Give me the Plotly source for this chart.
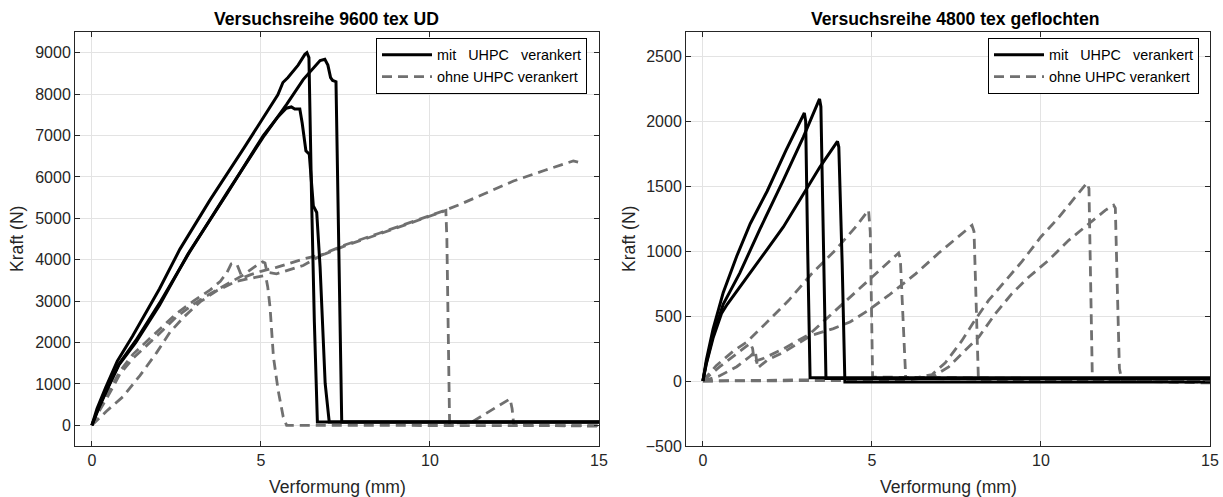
import plotly.graph_objects as go

# ---------------- Versuchsreihe 9600 tex UD ----------------
# mit UHPC verankert
ud_mit_a_x = [0, 0.15, 0.4, 0.75, 1.2, 2.0, 2.6, 3.5, 4.5, 5.5, 5.65, 5.8, 6.1, 6.3, 6.36, 6.42, 6.5, 6.58, 6.67, 15]
ud_mit_a_y = [0, 400, 900, 1550, 2150, 3300, 4250, 5450, 6700, 7980, 8280, 8400, 8700, 8960, 9000, 8880, 5400, 2500, 80, 80]
ud_mit_b_x = [0, 0.2, 0.45, 0.8, 1.3, 2.0, 2.9, 4.0, 5.1, 5.76, 6.25, 6.75, 6.89, 6.98, 7.06, 7.12, 7.22, 7.3, 7.39, 15]
ud_mit_b_y = [0, 430, 880, 1480, 2050, 2950, 4200, 5620, 7000, 7750, 8350, 8810, 8840, 8700, 8400, 8330, 8300, 4300, 80, 80]
ud_mit_c_x = [0, 0.2, 0.45, 0.8, 1.3, 2.0, 2.85, 4.0, 5.07, 5.5, 5.75, 5.9, 6.0, 6.15, 6.22, 6.33, 6.43, 6.55, 6.65, 6.75, 6.9, 7.02, 15]
ud_mit_c_y = [0, 410, 860, 1460, 2000, 2900, 4150, 5600, 7000, 7450, 7660, 7690, 7640, 7640, 7300, 6630, 6550, 5300, 5140, 3815, 1010, 80, 80]

# ohne UHPC verankert
ud_ohne_a_x = [0, 0.43, 0.93, 1.42, 1.91, 2.31, 2.7, 3.2, 3.69, 4.28, 4.87, 5.07, 5.15, 5.2, 5.27, 5.37, 5.51, 5.66, 5.76, 15]
ud_ohne_a_y = [0, 340, 700, 1200, 1750, 2250, 2600, 2980, 3250, 3480, 3580, 3610, 3560, 3350, 2850, 1650, 840, 200, 0, -10]
ud_ohne_b_x = [0, 0.2, 0.5, 0.83, 1.22, 1.67, 2.0, 2.5, 3.0, 3.5, 3.8, 4.0, 4.12, 4.2, 4.3, 4.45, 4.7, 5.0, 5.46, 6.25, 6.9,
               7.5, 8.5, 9.5, 10.4, 10.47, 10.5, 10.58, 11.2, 11.8, 12.37, 12.43, 12.48, 15]
ud_ohne_b_y = [0, 380, 820, 1310, 1720, 2060, 2320, 2700, 3000, 3270, 3480, 3700, 3900, 3920, 3870, 3560, 3640, 3720, 3815, 4016, 4140,
               4340, 4620, 4900, 5170, 5190, 4500, 60, 60, 350, 640, 400, 0, -20]
ud_ohne_c_x = [0, 0.2, 0.5, 0.83, 1.22, 1.67, 2.0, 2.5, 3.0, 3.5, 4.0, 4.5, 4.9, 5.05, 5.12, 5.18, 5.46, 6.25, 6.9,
               7.5, 8.5, 9.5, 10.4, 10.9, 11.7, 12.47, 13.4, 14.24, 14.5]
ud_ohne_c_y = [0, 320, 740, 1240, 1620, 1960, 2220, 2620, 2920, 3180, 3420, 3640, 3880, 3950, 3920, 3700, 3660, 3860, 4160,
               4360, 4640, 4920, 5180, 5340, 5620, 5900, 6160, 6386, 6330]

# ---------------- Versuchsreihe 4800 tex geflochten ----------------
# mit UHPC verankert
gf_mit_a_x = [0, 0.1, 0.3, 0.6, 1.0, 1.4, 1.9, 2.45, 3.0, 3.04, 3.1, 3.17, 15]
gf_mit_a_y = [0, 160, 400, 680, 960, 1210, 1460, 1770, 2062, 2000, 1000, 25, 25]
gf_mit_b_x = [0, 0.1, 0.3, 0.6, 1.09, 1.69, 2.38, 2.97, 3.45, 3.49, 3.57, 3.64, 15]
gf_mit_b_y = [0, 140, 350, 590, 830, 1170, 1545, 1877, 2170, 2110, 1000, 20, 20]
gf_mit_c_x = [0, 0.1, 0.3, 0.55, 0.72, 1.39, 1.88, 2.38, 2.87, 3.46, 3.98, 4.02, 4.12, 4.2, 15]
gf_mit_c_y = [0, 130, 330, 520, 590, 826, 1005, 1185, 1390, 1646, 1844, 1800, 900, -8, -8]

# ohne UHPC verankert
gf_ohne_a_x = [0, 0.4, 0.9, 1.3, 1.75, 2.54, 3.22, 3.91, 4.5, 4.9, 4.95, 5.02, 15]
gf_ohne_a_y = [0, 120, 230, 300, 415, 621, 826, 1005, 1180, 1315, 1150, 30, 10]
gf_ohne_b_x = [0, 0.5, 1.0, 1.4, 1.47, 1.52, 1.8, 2.4, 3.15, 3.62, 4.21, 4.8, 5.3, 5.79, 5.84, 5.92, 6.0, 15]
gf_ohne_b_y = [0, 110, 210, 290, 250, 150, 175, 250, 360, 470, 609, 750, 870, 985, 940, 500, 20, 0]
gf_ohne_c_x = [0, 0.5, 1.0, 1.4, 1.55, 1.62, 1.9, 2.4, 3.2, 3.86, 4.35, 4.9, 5.5, 6.3, 7.0, 7.96, 8.02, 8.08, 8.15, 15]
gf_ohne_c_y = [0, 40, 110, 190, 230, 100, 160, 223, 350, 403, 454, 545, 660, 826, 990, 1198, 1150, 600, 5, -5]
gf_ohne_d_x = [0, 2, 4, 6.2, 6.78, 7.17, 7.66, 8.0, 8.45, 8.94, 9.44, 10.0, 10.5, 11.0, 11.36, 11.42, 11.47, 11.52, 15]
gf_ohne_d_y = [0, 5, 10, 18, 50, 140, 310, 450, 620, 770, 920, 1110, 1250, 1410, 1523, 1480, 800, 20, -10]
gf_ohne_e_x = [0, 3, 6.0, 6.78, 7.27, 7.76, 8.16, 8.65, 9.14, 9.64, 10.23, 10.82, 11.41, 11.9, 12.15, 12.2, 12.26, 12.32, 12.4, 15]
gf_ohne_e_y = [0, 0, 5, 31, 108, 236, 338, 518, 672, 800, 930, 1082, 1211, 1313, 1352, 1330, 700, 95, 0, -15]

titles = ["Versuchsreihe 9600 tex UD", "Versuchsreihe 4800 tex geflochten"]
x_label = "Verformung (mm)"
y_label = "Kraft (N)"
legend_mit = "mit\u00a0\u00a0\u00a0UHPC\u00a0\u00a0\u00a0verankert"
legend_ohne = "ohne UHPC verankert"

x_ticks = [0, 5, 10, 15]
y_ticks_ud = [0, 1000, 2000, 3000, 4000, 5000, 6000, 7000, 8000, 9000]
y_ticks_gf = [-500, 0, 500, 1000, 1500, 2000, 2500]

FONT = "Liberation Sans, Arial, sans-serif"
INK = "#262626"
W, H = 1223, 497

solid = dict(color="black", width=3)
dashed = dict(color="#707070", width=2.8, dash="10px,6px")

fig = go.Figure()

def add(xs, ys, axis, style, name, legend, show, rank):
    fig.add_trace(go.Scatter(
        x=xs, y=ys, mode="lines", line=style, name=name,
        xaxis="x" if axis == 1 else "x2", yaxis="y" if axis == 1 else "y2",
        legend=legend, showlegend=show, legendrank=rank, hoverinfo="skip"))

# left panel: dashed first so solid curves sit on top
add(ud_ohne_a_x, ud_ohne_a_y, 1, dashed, legend_ohne, "legend", True, 2)
add(ud_ohne_b_x, ud_ohne_b_y, 1, dashed, legend_ohne, "legend", False, 2)
add(ud_ohne_c_x, ud_ohne_c_y, 1, dashed, legend_ohne, "legend", False, 2)
add(ud_mit_a_x, ud_mit_a_y, 1, solid, legend_mit, "legend", True, 1)
add(ud_mit_b_x, ud_mit_b_y, 1, solid, legend_mit, "legend", False, 1)
add(ud_mit_c_x, ud_mit_c_y, 1, solid, legend_mit, "legend", False, 1)

# right panel
for xs, ys, show in [(gf_ohne_a_x, gf_ohne_a_y, True), (gf_ohne_b_x, gf_ohne_b_y, False),
                     (gf_ohne_c_x, gf_ohne_c_y, False), (gf_ohne_d_x, gf_ohne_d_y, False),
                     (gf_ohne_e_x, gf_ohne_e_y, False)]:
    add(xs, ys, 2, dashed, legend_ohne, "legend2", show, 2)
for xs, ys, show in [(gf_mit_a_x, gf_mit_a_y, True), (gf_mit_b_x, gf_mit_b_y, False),
                     (gf_mit_c_x, gf_mit_c_y, False)]:
    add(xs, ys, 2, solid, legend_mit, "legend2", show, 1)

def xaxis(domain, anchor):
    return dict(domain=domain, anchor=anchor, range=[-0.5, 15], tickvals=x_ticks,
                ticks="inside", ticklen=5, tickcolor=INK, showline=True, linecolor=INK,
                linewidth=1, mirror="ticks", showgrid=True, gridcolor="#e3e3e3",
                zeroline=False, automargin=False,
                tickfont=dict(family=FONT, size=16, color=INK))

def yaxis(domain, anchor, rng, ticks):
    return dict(domain=domain, anchor=anchor, range=rng, tickvals=ticks,
                ticks="inside", ticklen=5, tickcolor=INK, showline=True, linecolor=INK,
                linewidth=1, mirror="ticks", showgrid=True, gridcolor="#e3e3e3",
                zeroline=False, automargin=False,
                tickfont=dict(family=FONT, size=16, color=INK))

ydom = [1 - 446 / H, 1 - 32 / H]
legend_style = dict(xanchor="right", yanchor="top", bgcolor="white", bordercolor="black",
                    borderwidth=1, font=dict(family=FONT, size=14.4, color="black"),
                    itemwidth=50, tracegroupgap=0)

annotations = []
for cx, t in zip([326, 955], titles):
    annotations.append(dict(x=cx / W, y=1 - 19 / H, xref="paper", yref="paper", showarrow=False,
                            text="<b>" + t + "</b>", xanchor="center", yanchor="middle",
                            font=dict(family=FONT, size=17.6, color="black")))
for cx in [337, 948]:
    annotations.append(dict(x=cx / W, y=1 - 487 / H, xref="paper", yref="paper", showarrow=False,
                            text=x_label, xanchor="center", yanchor="middle",
                            font=dict(family=FONT, size=17.6, color=INK)))
for cx in [17, 629]:
    annotations.append(dict(x=cx / W, y=1 - 239 / H, xref="paper", yref="paper", showarrow=False,
                            text=y_label, textangle=-90, xanchor="center", yanchor="middle",
                            font=dict(family=FONT, size=17.6, color=INK)))

fig.update_layout(
    width=W, height=H, margin=dict(l=0, r=0, t=0, b=0),
    paper_bgcolor="white", plot_bgcolor="white",
    xaxis=xaxis([75 / W, 599 / W], "y"),
    yaxis=yaxis(ydom, "x", [-500, 9500], y_ticks_ud),
    xaxis2=xaxis([686 / W, 1210 / W], "y2"),
    yaxis2=yaxis(ydom, "x2", [-500, 2685], y_ticks_gf),
    legend=dict(x=587 / W, y=1 - 38 / H, **legend_style),
    legend2=dict(x=1199 / W, y=1 - 38 / H, **legend_style),
    annotations=annotations,
)

fig.write_html("out.html")
